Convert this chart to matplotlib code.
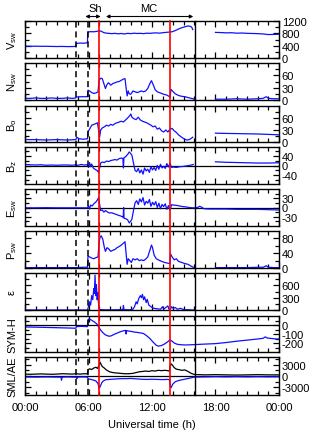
import numpy as np
import matplotlib
matplotlib.use("Agg")
import matplotlib.pyplot as plt
from matplotlib.lines import Line2D
from matplotlib.transforms import blended_transform_factory


# ==========================================
# Data (hours UT)
# ==========================================

v_time = [0.0, 0.5, 1.0, 1.5, 2.0, 2.5, 3.0, 3.5, 4.0, 4.5, 4.8, 4.82, 5.2, 5.5, 5.9,
          5.93, 6.2, 6.5, 6.8, 7.0, 7.2, 7.4, 7.6, 7.9, 8.2, 8.5, 8.8, 9.1, 9.4, 9.7,
          10.0, 10.3, 10.6, 10.9, 11.2, 11.5, 11.8, 12.1, 12.4, 12.7, 13.0, 13.3, 13.6,
          13.9, 14.2, 14.5, 14.8, 15.1, 15.4, 15.6, 15.75, 15.85,
          17.0,
          18.0, 18.5, 19.0, 19.5, 20.0, 20.5, 21.0, 21.5, 22.0, 22.5, 23.0, 23.5, 24.0]
v_sw = [385, 380, 383, 378, 380, 376, 372, 375, 370, 372, 375, 470, 485, 480, 490,
        840, 855, 850, 865, 880, 870, 830, 810, 800, 790, 800, 785, 795, 780, 800,
        790, 805, 795, 800, 790, 805, 800, 810, 815, 805, 820, 830, 840,
        850, 890, 940, 980, 1010, 1040, 1030, 1000, 920,
        np.nan,
        830, 825, 815, 820, 805, 810, 800, 795, 790, 780, 760, 765, 770]

n_time = [0, 0.5, 1, 1.5, 2, 2.5, 3, 3.5, 4, 4.5, 4.8, 4.82, 5.3, 5.9, 5.95, 6.1, 6.3,
          6.5, 6.7, 6.9, 7.0, 7.15, 7.3, 7.45, 7.6, 7.75, 7.9, 8.1, 8.3, 8.5, 8.7, 8.9,
          9.1, 9.3, 9.45, 9.55, 9.65, 9.75, 9.85, 10.0, 10.2, 10.4, 10.6, 10.8, 11.0,
          11.2, 11.4, 11.6, 11.8, 11.95, 12.1, 12.3, 12.5, 12.8, 13.1, 13.4, 13.6,
          13.72, 13.78, 14.0, 14.2, 14.5, 14.8, 15.1, 15.4, 15.7, 15.9, 16.0,
          17.0,
          18, 19, 20, 21, 22, 22.5, 22.8, 23.0, 23.5, 24]
n_sw = [4, 4, 5, 4, 4, 5, 4, 4, 5, 4, 5, 7, 8, 8, 24, 22, 18,
        16, 17, 20, 48, 53, 52, 40, 28, 38, 42, 36, 40, 42, 44, 45,
        48, 51, 52, 30, 10, 22, 15, 14, 22, 20, 18, 20, 22,
        20, 22, 28, 40, 47, 38, 25, 20, 17, 14, 12, 9,
        7, 26, 20, 15, 11, 9, 8, 6, 4, 3, 2,
        np.nan,
        2, 2, 3, 2, 3, 4, 8, 4, 3, 3]

b_time = [0, 1, 2, 3, 4, 4.8, 4.9, 5.1, 5.5, 5.9, 5.95, 6.1, 6.3, 6.5, 6.7, 6.85, 6.95,
          7.05, 7.15, 7.3, 7.5, 7.7, 7.9, 8.1, 8.3, 8.5, 8.7, 8.9, 9.1, 9.3, 9.5, 9.7,
          9.9, 10.0, 10.1, 10.3, 10.5, 10.7, 10.9, 11.1, 11.3, 11.5, 11.7, 11.9, 12.1,
          12.3, 12.5, 12.7, 12.9, 13.1, 13.3, 13.5, 13.7, 13.9, 14.1, 14.3, 14.5, 14.7,
          14.9, 15.1, 15.3, 15.5, 15.7, 15.85,
          17.0,
          18, 20, 22, 24]
b_o = [6, 6, 5, 6, 5, 6, 12, 8, 7, 8, 25, 32, 42, 44, 46, 48, 30,
       12, 30, 35, 38, 42, 40, 44, 42, 46, 48, 50, 52, 50, 55, 60,
       66, 70, 62, 58, 56, 62, 55, 52, 50, 48, 45, 42, 38,
       40, 32, 35, 28, 25, 30, 25, 32, 34, 28, 24, 18, 14,
       10, 7, 5, 6, 9, 12,
       np.nan,
       22, 21, 20, 18]

bz_time = [0, 0.5, 1, 1.5, 2, 2.5, 3, 3.5, 4, 4.5, 4.8, 5.0, 5.3, 5.6, 5.9, 6.0, 6.1,
           6.2, 6.3, 6.45, 6.6, 6.8, 6.95, 7.05, 7.15, 7.3, 7.5, 7.7, 7.9, 8.1, 8.3,
           8.5, 8.7, 8.9, 9.1, 9.25, 9.3, 9.35, 9.5, 9.7, 9.85, 9.95, 10.1, 10.25, 10.4,
           10.55, 10.7, 10.85, 11.0, 11.15, 11.3, 11.45, 11.6, 11.75, 11.9, 12.05, 12.2,
           12.35, 12.5, 12.65, 12.8, 12.95, 13.1, 13.25, 13.4, 13.55, 13.7, 13.85,
           14.0, 14.3, 14.6, 14.9, 15.2, 15.5, 15.8, 15.9,
           17.0,
           18, 19, 20, 21, 22, 23, 24]
b_z = [4, 3, 2, 3, 1, 2, 1, 2, 2, 1, 3, 1, 4, 2, 3, -8, 12,
       -5, 6, -10, -15, -20, -28, -10, 10, 14, 12, 18, 16, 20, 22,
       24, 22, 28, 30, 28, -10, 32, 35, 45, 55, 50, 42, 10, -20,
       -25, -12, -30, -18, -35, -10, -22, -15, -28, -5, -18, -8,
       -20, 0, -15, 5, -10, -3, -12, 8, -6, 10, -8,
       -6, -8, -5, -4, -2, 0, 3, 4,
       np.nan,
       15, 13, 12, 11, 10, 10, 11]

e_time = [0, 1, 2, 3, 4, 4.8, 5.3, 5.9, 6.0, 6.1, 6.2, 6.35, 6.5, 6.7, 6.85, 6.95,
          7.05, 7.15, 7.3, 7.45, 7.6, 7.8, 8.0, 8.2, 8.4, 8.6, 8.8, 9.0, 9.2, 9.28,
          9.32, 9.36, 9.5, 9.7, 9.85, 9.95, 10.1, 10.25, 10.4, 10.55, 10.7, 10.85,
          11.0, 11.15, 11.3, 11.45, 11.6, 11.75, 11.9, 12.05, 12.2, 12.35, 12.5,
          12.65, 12.8, 12.95, 13.1, 13.25, 13.4, 13.55, 13.7, 13.85, 14.0, 14.3,
          14.6, 14.9, 15.2, 15.5, 15.8, 16.0, 16.3, 16.5, 16.7, 16.9, 17.5, 18, 19,
          20, 21, 22, 23, 24]
e_sw = [-1, -1, -0.5, -1, -1, -1, -1, -1, 5, -5, 8, 5, 12, 18, 25, 32,
        10, -10, -8, -15, -10, -15, -18, -17, -20, -22, -25, -27, -30, -32,
        0, -35, -36, -40, -50, -46, -38, -10, 15, 22, 10, 28,
        18, 32, 8, 20, 14, 26, 4, 17, 8, 19, 0,
        14, -4, 10, 3, 12, -6, 6, -8, 9, 8, 7,
        5, 3, 2, 0, -1, -1, 0, 4, 1, -4, -5, -5, -5,
        -6, -6, -6, -7, -8]

p_time = [0, 1, 2, 3, 4, 4.8, 5.5, 5.9, 5.95, 6.1, 6.3, 6.5, 6.7, 6.9, 7.0, 7.1, 7.2,
          7.35, 7.5, 7.6, 7.75, 7.9, 8.1, 8.3, 8.5, 8.7, 8.9, 9.1, 9.3, 9.45, 9.55,
          9.65, 9.75, 9.9, 10.05, 10.2, 10.4, 10.6, 10.8, 11.0, 11.2, 11.4, 11.6,
          11.8, 11.95, 12.05, 12.2, 12.4, 12.6, 12.9, 13.2, 13.5, 13.7, 13.75, 13.9,
          14.1, 14.3, 14.5, 14.8, 15.1, 15.4, 15.7, 15.9,
          17.0,
          18, 19, 20, 21, 22, 22.5, 22.8, 23.0, 23.5, 24]
p_sw = [1, 1, 1, 1, 1, 1, 2, 2, 32, 30, 27, 25, 28, 30, 70, 84, 87,
        78, 55, 45, 55, 52, 45, 48, 50, 55, 58, 62, 67, 71, 40,
        10, 25, 20, 15, 25, 22, 25, 20, 22, 20, 24, 30,
        48, 62, 55, 35, 25, 22, 18, 15, 13, 12, 38, 30,
        22, 25, 18, 15, 12, 10, 5, 2,
        np.nan,
        1, 1, 1, 1, 2, 2, 6, 2, 1, 1]

eps_time = [0, 5.9, 6.0, 6.1, 6.2, 6.3, 6.4, 6.5, 6.55, 6.62, 6.68, 6.75, 6.82, 6.88,
            6.95, 7.0, 7.1, 7.5, 8, 8.5, 9.0, 9.25, 9.3, 9.35, 9.7, 10.0, 10.2, 10.35,
            10.5, 10.6, 10.75, 10.9, 11.0, 11.1, 11.2, 11.3, 11.45, 11.55, 11.7, 11.85,
            12.0, 12.2, 12.5, 12.8, 13.0, 13.1, 13.3, 13.5, 13.6, 13.7, 13.85, 14.0,
            14.2, 14.4, 14.7, 15.0, 15.5, 16.0]
epsilon = [0, 0, 80, 200, 120, 350, 250, 520, 400, 850, 350, 620, 250, 420,
           150, 30, 10, 5, 5, 5, 8, 10, 110, 10, 5, 8, 20, 80,
           200, 150, 280, 350, 300, 380, 250, 320, 180, 260, 120, 90,
           60, 40, 30, 20, 80, 20, 60, 100, 20, 0, 80, 40,
           60, 20, 40, 10, 5, 0]

sym_time = [0, 1, 2, 3, 4, 4.8, 4.85, 5.3, 5.9, 5.95, 6.05, 6.2, 6.4, 6.6, 6.8, 7.0,
            7.2, 7.4, 7.6, 7.8, 8.0, 8.2, 8.4, 8.6, 8.8, 9.0, 9.2, 9.4, 9.5, 9.55,
            9.6, 9.8, 10.0, 10.3, 10.6, 10.9, 11.2, 11.5, 11.8, 12.1, 12.4, 12.6,
            12.9, 13.2, 13.5, 13.7, 13.9, 14.1, 14.4, 14.8, 15.2, 15.6, 16.0, 17,
            18, 19, 20, 21, 22, 22.5, 22.7, 22.9, 23.3, 23.7, 24]
sym_h = [-22, -24, -27, -30, -33, -36, -18, -15, -18, 40, 70, 60, 45, 30, 10, -30,
         -65, -90, -110, -120, -125, -118, -105, -95, -85, -75, -68, -62, -60, -100,
         -62, -68, -70, -78, -82, -88, -95, -120, -150, -190, -225, -235,
         -228, -210, -185, -165, -180, -200, -215, -220, -222, -220, -218, -212,
         -207, -195, -180, -168, -155, -148, -132, -145, -150, -155, -156]

ae_time = [0, 0.5, 1, 1.5, 2, 2.5, 3, 3.5, 4, 4.5, 4.8, 5.2, 5.6, 5.9, 5.95, 6.1, 6.3,
           6.5, 6.7, 6.85, 7.0, 7.1, 7.2, 7.3, 7.45, 7.6, 7.8, 8.0, 8.3, 8.6, 9.0,
           9.4, 9.8, 10.2, 10.5, 10.8, 11.1, 11.4, 11.7, 12.0, 12.3, 12.6, 12.9,
           13.2, 13.5, 13.65, 13.72, 13.8, 13.95, 14.1, 14.3, 14.5, 14.8, 15.1,
           15.4, 15.7, 16.0, 16.5, 17, 18, 19, 20, 21, 22, 23, 24]
ae = [500, 450, 500, 550, 500, 450, 500, 600, 550, 500, 600, 500, 600, 550, 1600,
      1900, 1700, 2100, 2300, 2000, 2800, 3600, 3000, 2500, 2200, 1800, 1400, 1100,
      900, 800, 700, 600, 600, 700, 900, 1100, 1200, 1300, 1200, 1400, 1300, 1500,
      1400, 1500, 1400, 1300, 2600, 3200, 2800, 2200, 1800, 1700, 1500, 1600,
      1200, 700, 400, 350, 300, 350, 300, 250, 300, 350, 300, 300]

sml_time = [0, 1, 2, 3, 3.4, 3.45, 3.5, 4, 4.5, 4.85, 4.9, 4.95, 5.5, 5.9, 5.95, 6.2,
            6.5, 6.7, 6.9, 7.0, 7.1, 7.25, 7.4, 7.6, 8.0, 8.5, 9.0, 9.5, 10.0, 10.5,
            11.0, 11.5, 12.0, 12.5, 13.0, 13.5, 13.65, 13.72, 13.8, 13.95, 14.2,
            14.5, 15.0, 15.5, 16.0, 17, 18, 19, 20, 21, 22, 23, 24]
sml = [-250, -300, -250, -300, -300, -1100, -300, -250, -300, -300, -700, -300, -250,
       -300, -700, -900, -1100, -1300, -2000, -3300, -2800, -1800, -1300, -1000,
       -900, -800, -700, -700, -650, -750, -850, -900, -850, -900, -950, -900,
       -1000, -2500, -3100, -2200, -1500, -1200, -900, -600, -300, -250, -200,
       -250, -200, -250, -200, -250, -200]

# event times (h)
dashed_times = [4.82, 5.93]
red_times = [6.95, 13.72]
gap_start = 16.07

hour_ticks = [0, 6, 12, 18, 24]
hour_labels = ["00:00", "06:00", "12:00", "18:00", "00:00"]


# ==========================================
# Panels
# ==========================================

plt.rcParams["font.family"] = ["Liberation Sans", "DejaVu Sans"]
plt.rcParams["mathtext.fontset"] = "custom"
plt.rcParams["mathtext.rm"] = "Liberation Sans"
plt.rcParams["mathtext.it"] = "Liberation Sans"
plt.rcParams["axes.unicode_minus"] = False

panels = [
    (r"V$_{\rm sw}$", (0, 1200), [0, 400, 800, 1200], [200, 600, 1000], False),
    (r"N$_{\rm sw}$", (0, 90), [0, 30, 60], [15, 45, 75], False),
    (r"B$_{\rm o}$", (0, 90), [0, 30, 60], [15, 45, 75], False),
    (r"B$_{\rm z}$", (-75, 75), [-40, 0, 40], [-60, -20, 20, 60], True),
    (r"E$_{\rm sw}$", (-60, 60), [-30, 0, 30], [-45, -15, 15, 45], True),
    (r"P$_{\rm sw}$", (0, 100), [0, 40, 80], [20, 60], False),
    ("ε", (0, 900), [0, 300, 600], [150, 450, 750], False),
    ("SYM-H", (-300, 100), [-200, -100, 0], [-250, -150, -50, 50], True),
    ("SML/AE", (-5000, 5000), [-3000, 0, 3000], [-4500, -1500, 1500, 4500], True),
]

tops = [22, 64, 107, 148, 190, 232, 274, 317, 358]
bots = [59, 101, 143, 185, 227, 269, 311, 353, 396]

W, H = 320, 431
fig = plt.figure(figsize=(W / 100, H / 100), dpi=100)

left, right = 25, 279
axes = []
for i, (label, ylim, major, minor, zero) in enumerate(panels):
    ax = fig.add_axes([left / W, 1 - bots[i] / H, (right - left) / W,
                       (bots[i] - tops[i]) / H])
    ax.set_xlim(0, 24)
    ax.set_ylim(*ylim)
    ax.set_yticks(major)
    ax.set_yticks(minor, minor=True)
    ax.set_xticks(hour_ticks)
    ax.set_xticks(range(25), minor=True)
    ax.tick_params(axis="both", which="both", direction="in",
                   top=True, bottom=True, left=True, right=True,
                   labelleft=False, labelright=True, labelsize=8, pad=2,
                   width=0.9)
    ax.tick_params(axis="x", pad=5)
    ax.tick_params(which="major", length=4)
    ax.tick_params(which="minor", length=3)
    if i < len(panels) - 1:
        ax.tick_params(labelbottom=False)
    else:
        ax.set_xticklabels(hour_labels)
    for s in ax.spines.values():
        s.set_linewidth(1.0)
    if zero:
        ax.axhline(0, color="black", lw=0.9)
    fig.text(12 / W, 1 - (tops[i] + bots[i]) / 2 / H, label, rotation=90,
             ha="center", va="center", fontsize=8)
    axes.append(ax)

blue = "#1010ff"
lw = 0.9
axes[0].plot(v_time, v_sw, color=blue, lw=lw)
axes[1].plot(n_time, n_sw, color=blue, lw=lw)
axes[2].plot(b_time, b_o, color=blue, lw=lw)
axes[3].plot(bz_time, b_z, color=blue, lw=lw)
axes[4].plot(e_time, e_sw, color=blue, lw=lw)
axes[5].plot(p_time, p_sw, color=blue, lw=lw)
axes[6].plot(eps_time, epsilon, color=blue, lw=lw)
axes[7].plot(sym_time, sym_h, color=blue, lw=lw)
axes[8].plot(ae_time, ae, color="black", lw=lw)
axes[8].plot(sml_time, sml, color=blue, lw=lw)

axes[-1].set_xlabel("Universal time (h)", fontsize=8, labelpad=5)


# ==========================================
# Event lines across all panels
# ==========================================

trans = blended_transform_factory(axes[0].transData, fig.transFigure)
y_top = 1 - tops[0] / H
y_bot = 1 - bots[-1] / H

for t in dashed_times:
    fig.add_artist(Line2D([t, t], [y_bot, y_top], transform=trans,
                          color="black", lw=1.1, dashes=(4, 2.5)))
for t in red_times:
    fig.add_artist(Line2D([t, t], [y_bot, y_top], transform=trans,
                          color="#ff0000", lw=1.2))
fig.add_artist(Line2D([gap_start, gap_start], [y_bot, y_top], transform=trans,
                      color="black", lw=1.0))


# ==========================================
# Sh / MC annotations
# ==========================================

arrow_y = 1 - 17.5 / H
axes[0].annotate("", xy=(7.15, arrow_y), xytext=(5.7, arrow_y),
                 xycoords=trans, textcoords=trans,
                 arrowprops=dict(arrowstyle="<|-|>", lw=0.8, color="black",
                                 mutation_scale=5, shrinkA=0, shrinkB=0))
axes[0].annotate("", xy=(15.9, arrow_y), xytext=(7.65, arrow_y),
                 xycoords=trans, textcoords=trans,
                 arrowprops=dict(arrowstyle="<|-|>", lw=0.8, color="black",
                                 mutation_scale=5, shrinkA=0, shrinkB=0))
fig.text(6.6, 1 - 8.5 / H, "Sh", transform=trans, ha="center", va="center", fontsize=8)
fig.text(11.7, 1 - 8.5 / H, "MC", transform=trans, ha="center", va="center", fontsize=8)

fig.savefig("out.png", dpi=100)
